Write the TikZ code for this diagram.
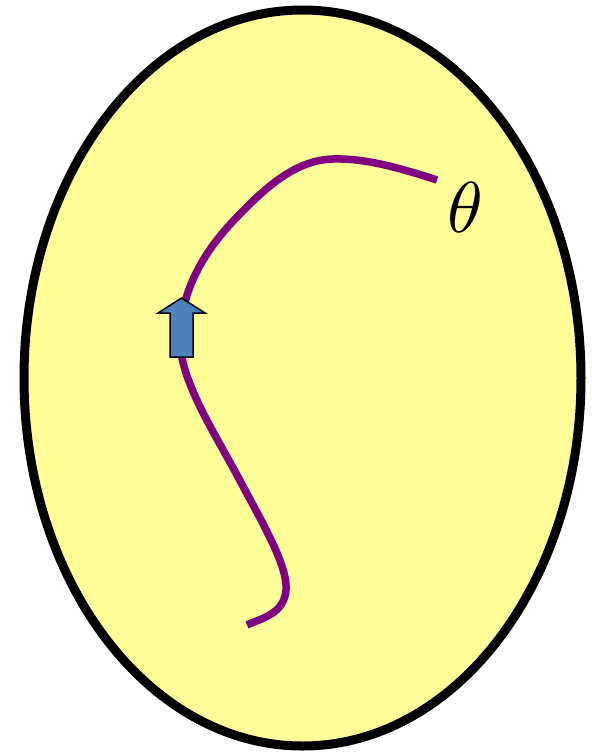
\documentclass[tikz,border=0pt]{standalone}
\usepackage{tikz}
\usetikzlibrary{shapes.geometric}
\definecolor{eggfill}{HTML}{FFFF99}
\definecolor{pathpurple}{HTML}{800080}
\definecolor{arrowblue}{HTML}{4F81BD}
\tikzset{
  egg/.style={draw=black, fill=eggfill, line width=9pt},
  wpath/.style={draw=pathpurple, line width=7.5pt},
  bluearrow/.style={draw=black, fill=arrowblue, line width=1.5pt, line join=miter},
}
\begin{document}
\begin{tikzpicture}[x=1pt,y=-1pt]
\useasboundingbox (0,0) rectangle (592,756);
\node[egg, ellipse, minimum width=557pt, minimum height=736pt, inner sep=0pt] (egg) at (302.5,378) {};
\coordinate (s) at (247,625);
\coordinate (e) at (437,180);
\draw[wpath] (s) .. controls (262,618) and (284,614) .. (286,590)
  .. controls (288,566) and (262,522) .. (238,477)
  .. controls (214,432) and (180,380) .. (180,340)
  .. controls (180,290) and (205,250) .. (237,217)
  .. controls (265,188) and (295,160) .. (333,159)
  .. controls (365,158) and (400,168) .. (e);
\draw[bluearrow] (170,357) -- (193,357) -- (193,313) -- (205,313) -- (181.5,298) -- (158,313) -- (170,313) -- cycle;
\node[scale=7.2, inner sep=0pt] (theta) at (465,207) {$\theta$};
\end{tikzpicture}
\end{document}
